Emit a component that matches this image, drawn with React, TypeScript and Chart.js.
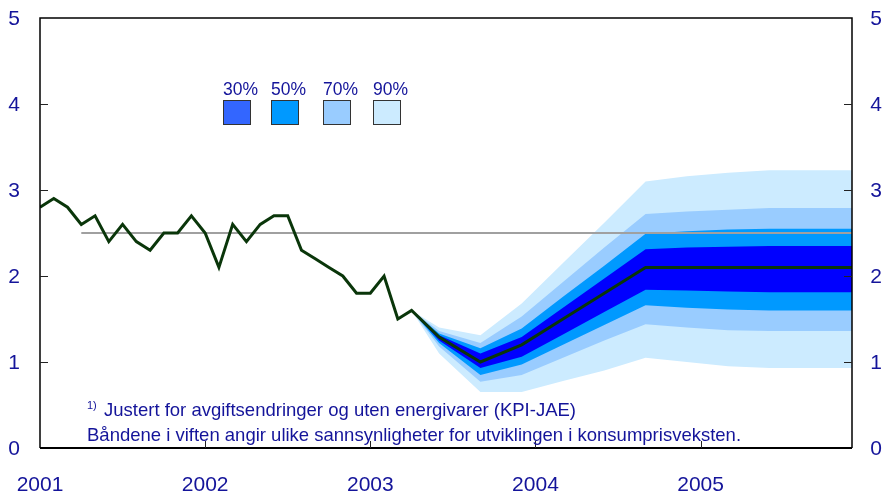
import React, { useEffect, useRef } from "react";
import { Chart, registerables } from "chart.js";

Chart.register(...registerables);

// ---- data ----
const yearLabels = ["2001", "2002", "2003", "2004", "2005"];
const yearMonths = [0, 12, 24, 36, 48];
const yTicks = [0, 1, 2, 3, 4, 5];

// monthly history, Jan 2001 .. Apr 2003
const histValues = [
  2.8, 2.9, 2.8, 2.6, 2.7, 2.4, 2.6, 2.4, 2.3, 2.5, 2.5, 2.7,
  2.5, 2.1, 2.6, 2.4, 2.6, 2.7, 2.7, 2.3, 2.2, 2.1, 2.0, 1.8,
  1.8, 2.0, 1.5, 1.6,
];

// forecast (months since Jan 2001)
const fcMonths = [27, 29, 32, 35, 38, 41, 44, 47, 50, 53, 56, 59];
const median = [1.6, 1.29, 1.0, 1.2, 1.5, 1.8, 2.1, 2.1, 2.1, 2.1, 2.1, 2.1];
const up30 = [1.6, 1.31, 1.1, 1.29, 1.63, 1.97, 2.31, 2.33, 2.34, 2.35, 2.35, 2.35];
const lo30 = [1.6, 1.25, 0.93, 1.06, 1.32, 1.58, 1.84, 1.83, 1.82, 1.81, 1.81, 1.81];
const up50 = [1.6, 1.33, 1.16, 1.39, 1.76, 2.12, 2.49, 2.52, 2.54, 2.55, 2.55, 2.55];
const lo50 = [1.6, 1.22, 0.85, 0.97, 1.2, 1.43, 1.66, 1.63, 1.61, 1.6, 1.6, 1.6];
const up70 = [1.6, 1.36, 1.22, 1.53, 1.93, 2.33, 2.72, 2.75, 2.77, 2.79, 2.79, 2.79];
const lo70 = [1.6, 1.18, 0.77, 0.85, 1.05, 1.25, 1.44, 1.4, 1.37, 1.36, 1.36, 1.36];
const up90 = [1.6, 1.4, 1.31, 1.68, 2.15, 2.62, 3.1, 3.16, 3.2, 3.23, 3.23, 3.23];
const lo90 = [1.6, 1.1, 0.65, 0.65, 0.78, 0.9, 1.05, 1.0, 0.95, 0.93, 0.93, 0.93];

const targetMonths = [3, 59];
const targetValue = 2.5;

const bandLabels = ["30%", "50%", "70%", "90%"];
const bandColors = ["#0000FF", "#0099FF", "#99CCFF", "#CCEBFF"];
const legendColors = ["#3366FF", "#0099FF", "#99CCFF", "#CCEBFF"];

const footnoteMark = "1)";
const footnote1 = "Justert for avgiftsendringer og uten energivarer (KPI-JAE)";
const footnote2 =
  "Båndene i viften angir ulike sannsynligheter for utviklingen i konsumprisveksten.";

const NAVY = "#14149a";
const FONT = "'Liberation Sans', Arial, sans-serif";

const pts = (xs: number[], ys: number[]) => xs.map((x, i) => ({ x, y: ys[i] }));

const decorPlugin = {
  id: "decor",
  afterDraw(chart: any) {
    const { ctx, chartArea: a, scales } = chart;
    const xs = scales.x;
    const ys = scales.y;
    ctx.save();

    // frame
    ctx.strokeStyle = "#000";
    ctx.lineWidth = 1.5;
    ctx.beginPath();
    ctx.moveTo(a.left, a.bottom);
    ctx.lineTo(a.left, a.top);
    ctx.lineTo(a.right, a.top);
    ctx.lineTo(a.right, a.bottom);
    ctx.stroke();
    ctx.lineWidth = 2;
    ctx.beginPath();
    ctx.moveTo(a.left, a.bottom);
    ctx.lineTo(a.right, a.bottom);
    ctx.stroke();

    // y ticks (inside, both sides)
    ctx.lineWidth = 1;
    ctx.strokeStyle = "#222";
    yTicks.forEach((v) => {
      if (v === 0 || v === 5) return;
      const y = Math.round(ys.getPixelForValue(v)) + 0.5;
      ctx.beginPath();
      ctx.moveTo(a.left, y);
      ctx.lineTo(a.left + 8, y);
      ctx.moveTo(a.right - 8, y);
      ctx.lineTo(a.right, y);
      ctx.stroke();
    });
    // x ticks
    yearMonths.forEach((m) => {
      if (m === 0) return;
      const x = Math.round(xs.getPixelForValue(m)) + 0.5;
      ctx.beginPath();
      ctx.moveTo(x, a.bottom);
      ctx.lineTo(x, a.bottom - 7);
      ctx.stroke();
    });

    // y labels
    ctx.fillStyle = NAVY;
    ctx.font = `21px ${FONT}`;
    ctx.textAlign = "center";
    ctx.textBaseline = "middle";
    yTicks.forEach((v) => {
      const y = ys.getPixelForValue(v);
      ctx.fillText(String(v), 14, y + 1);
      ctx.fillText(String(v), 876, y + 1);
    });
    // x labels
    yearLabels.forEach((lab, i) => {
      const x = xs.getPixelForValue(yearMonths[i]);
      ctx.fillText(lab, x, 485);
    });

    // legend
    ctx.font = `17.5px ${FONT}`;
    ctx.textAlign = "left";
    ctx.textBaseline = "alphabetic";
    const legX = [223, 271, 323, 373];
    bandLabels.forEach((lab, i) => {
      ctx.fillStyle = NAVY;
      ctx.fillText(lab, legX[i], 95);
      ctx.fillStyle = legendColors[i];
      ctx.fillRect(legX[i], 100, 27, 24);
      ctx.strokeStyle = "#333";
      ctx.lineWidth = 1;
      ctx.strokeRect(legX[i] + 0.5, 100.5, 27, 24);
    });

    // footnotes
    ctx.fillStyle = NAVY;
    ctx.font = `11px ${FONT}`;
    ctx.fillText(footnoteMark, 87, 409);
    ctx.font = `18.5px ${FONT}`;
    ctx.fillText(footnote1, 104, 416);
    ctx.fillText(footnote2, 87, 441);

    ctx.restore();
  },
};

export default function App() {
  const ref = useRef<HTMLCanvasElement | null>(null);

  useEffect(() => {
    if (!ref.current) return;
    const band = (lo: number[], up: number[], color: string, order: number) => [
      {
        data: pts(fcMonths, lo),
        borderWidth: 0,
        borderColor: "rgba(0,0,0,0)",
        pointRadius: 0,
        fill: false,
        order,
      },
      {
        data: pts(fcMonths, up),
        borderWidth: 0,
        borderColor: "rgba(0,0,0,0)",
        backgroundColor: color,
        pointRadius: 0,
        fill: "-1",
        order,
      },
    ];
    const histPts = histValues.map((v, i) => ({ x: i, y: v }));
    const linePts = histPts.concat(pts(fcMonths.slice(1), median.slice(1)));

    const chart = new Chart(ref.current, {
      type: "line",
      data: {
        datasets: [
          ...band(lo90, up90, bandColors[3], 4),
          ...band(lo70, up70, bandColors[2], 3),
          ...band(lo50, up50, bandColors[1], 2),
          ...band(lo30, up30, bandColors[0], 1),
          {
            data: pts(targetMonths, [targetValue, targetValue]),
            borderColor: "#a0a0a0",
            borderWidth: 2,
            pointRadius: 0,
            fill: false,
            order: 0,
          },
          {
            data: linePts,
            borderColor: "#0a360a",
            borderWidth: 3,
            pointRadius: 0,
            fill: false,
            order: -1,
          },
        ] as any,
      },
      options: {
        animation: false,
        responsive: false,
        devicePixelRatio: 1,
        layout: { padding: { left: 40, right: 32, top: 18, bottom: 46 } },
        elements: { line: { tension: 0 } },
        scales: {
          x: { type: "linear", min: 0, max: 59, display: false },
          y: { min: 0, max: 5, display: false },
        },
        plugins: {
          legend: { display: false },
          tooltip: { enabled: false },
          filler: { propagate: false },
        },
      },
      plugins: [decorPlugin],
    });
    return () => chart.destroy();
  }, []);

  return (
    <div style={{ position: "absolute", left: 0, top: 0, width: 884, height: 494, background: "#fff" }}>
      <canvas ref={ref} width={884} height={494} />
    </div>
  );
}
